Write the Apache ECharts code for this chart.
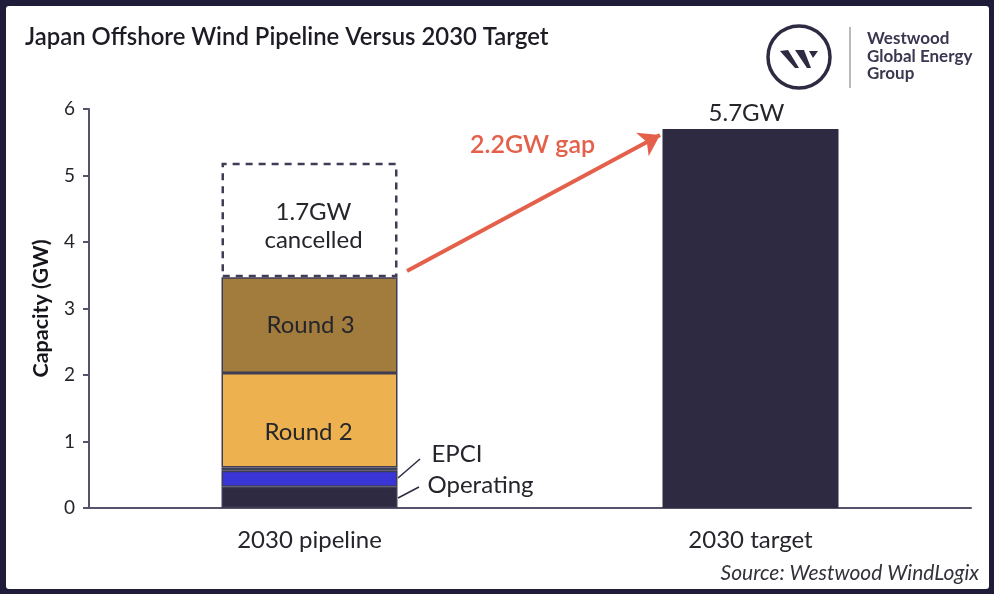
<!DOCTYPE html>
<html>
<head>
	<meta charset="utf-8">
	<title>Japan Offshore Wind Pipeline Versus 2030 Target</title>
	<script src="https://cdn.jsdelivr.net/npm/echarts@6/dist/echarts.min.js"></script>
	<style>
		html, body { margin: 0; padding: 0; background: #1f1c3a; }
		#chart { width: 994px; height: 594px; }
	</style>
</head>
<body>
<div id="chart"></div>
<script type="text/javascript">
var categories = ['2030 pipeline', '2030 target'];
var tickValues = [0, 1, 2, 3, 4, 5, 6];
var operating = [0.32, 0];
var epci = [0.24, 0];
var sliver = [0.05, 0];
var round2 = [1.42, 0];
var round3 = [1.44, 0];
var cancelled = [1.72, 0];
var target = [0, 5.7];

var DARK = '#2d2a42';
var TEXT = '#26252c';
var FONT = 'Lato';

function stackBar(name, data, color, label) {
	return {
		name: name,
		type: 'bar',
		stack: 'total',
		barWidth: 176,
		data: data.map(function (v) { return v === 0 ? null : v; }),
		itemStyle: { color: color, borderColor: '#3f3d55', borderWidth: 1.5 },
		label: label || { show: false },
		silent: true
	};
}

function inside(text, dx, dy) {
	return { show: true, position: 'inside', offset: [dx, dy], formatter: text, fontFamily: FONT, fontSize: 24, color: TEXT, lineHeight: 28 };
}

function side(text, dx, dy) {
	return { show: true, position: 'right', distance: 29, offset: [dx, dy], formatter: text, fontFamily: FONT, fontSize: 24, color: TEXT };
}

var series = [
	stackBar('Operating', operating, DARK, side('Operating', 1, -12)),
	stackBar('EPCI', epci, '#3a35d6', side('EPCI', 5, -24)),
	stackBar('Other', sliver, '#4f6f63'),
	stackBar('Round 2', round2, '#edb24f', inside('Round 2', -1, 12)),
	stackBar('Round 3', round3, '#a17c3d', inside('Round 3', 1, 0)),
	{
		name: 'Cancelled',
		type: 'bar',
		stack: 'total',
		barWidth: 176,
		silent: true,
		data: cancelled.map(function (v) { return v === 0 ? null : v; }),
		itemStyle: { color: '#ffffff', borderColor: '#3f3d55', borderWidth: 2.5, borderType: [7, 6] },
		label: inside('1.7GW\ncancelled', 4, 6),
		markLine: {
			silent: true,
			animation: false,
			symbol: ['none', 'arrow'],
			symbolSize: 20,
			label: { show: false },
			lineStyle: { color: '#e4604a', width: 4, type: 'solid' },
			data: [[{ x: 407, y: 271 }, { x: 660, y: 135 }]]
		}
	},
	{
		name: 'Target',
		type: 'bar',
		stack: 'total',
		barWidth: 176,
		silent: true,
		data: target.map(function (v) { return v === 0 ? null : v; }),
		itemStyle: { color: DARK },
		label: { show: true, position: 'top', distance: 4, offset: [-4, 0], formatter: '5.7GW', fontFamily: FONT, fontSize: 24, color: TEXT }
	}
];

var myChart = echarts.init(document.getElementById('chart'));
var option = {
	animation: false,
	backgroundColor: '#1f1c3a',
	textStyle: { fontFamily: FONT },
	grid: { left: 89, right: 23, top: 109, bottom: 86 },
	xAxis: {
		type: 'category',
		data: categories,
		axisLine: { lineStyle: { color: '#55536a', width: 2 } },
		axisTick: { show: false },
		axisLabel: { color: TEXT, fontFamily: FONT, fontSize: 24, margin: 20 }
	},
	yAxis: {
		type: 'value',
		min: 0,
		max: 6,
		interval: 1,
		name: 'Capacity (GW)',
		nameLocation: 'middle',
		nameGap: 37,
		nameTextStyle: { color: '#17161c', fontFamily: FONT, fontSize: 21.5, fontWeight: 700 },
		axisLine: { show: true, lineStyle: { color: '#55536a', width: 2 } },
		axisTick: { show: true, length: 6, lineStyle: { color: '#55536a', width: 2 } },
		axisLabel: { color: TEXT, fontFamily: FONT, fontSize: 19, margin: 14,
			formatter: function (v) { return tickValues.indexOf(v) >= 0 ? String(v) : ''; } },
		splitLine: { show: false }
	},
	series: series,
	graphic: [
		{ type: 'rect', z: -10, silent: true, shape: { x: 6, y: 6, width: 983, height: 583, r: 3 }, style: { fill: '#ffffff' } },
		{ type: 'text', left: 25, top: 25, style: { text: 'Japan Offshore Wind Pipeline Versus 2030 Target', font: '600 23.9px Lato', fill: '#1d1c24' } },
		{ type: 'text', left: 470, top: 132, style: { text: '2.2GW gap', font: '600 25px Lato', fill: '#e4604a' } },
		{ type: 'text', right: 15, top: 563, style: { text: 'Source: Westwood WindLogix', font: 'italic 21px Lato', fill: '#33323a' } },
		// leader lines for the small segments
		{ type: 'line', shape: { x1: 398, y1: 478, x2: 420, y2: 459 }, style: { stroke: DARK, lineWidth: 1.5 } },
		{ type: 'line', shape: { x1: 398, y1: 498, x2: 419, y2: 487 }, style: { stroke: DARK, lineWidth: 1.5 } },
		// logo
		{ type: 'circle', shape: { cx: 799, cy: 57, r: 31 }, style: { fill: 'none', stroke: DARK, lineWidth: 3.5 } },
		{ type: 'polygon', shape: { points: [[780, 51], [788, 50], [799, 68], [795, 68]] }, style: { fill: DARK } },
		{ type: 'polygon', shape: { points: [[795, 50], [804, 50], [811, 68], [807, 68]] }, style: { fill: DARK } },
		{ type: 'polygon', shape: { points: [[809, 51], [818, 51], [813, 58]] }, style: { fill: DARK } },
		{ type: 'line', shape: { x1: 850, y1: 27, x2: 850, y2: 88 }, style: { stroke: '#b9b9c0', lineWidth: 2 } },
		{ type: 'text', left: 867, top: 30, style: { text: 'Westwood', font: '700 17px Lato', fill: '#3a3850' } },
		{ type: 'text', left: 867, top: 48, style: { text: 'Global Energy', font: '700 17px Lato', fill: '#3a3850' } },
		{ type: 'text', left: 867, top: 65, style: { text: 'Group', font: '700 17px Lato', fill: '#3a3850' } }
	]
};
myChart.setOption(option);
</script>
</body>
</html>
